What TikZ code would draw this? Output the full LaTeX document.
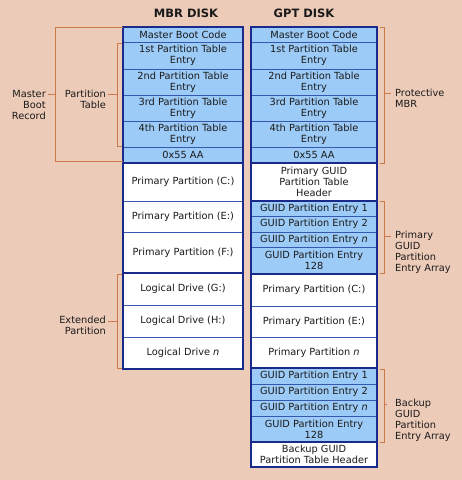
\documentclass[tikz,border=0pt]{standalone}
\usepackage{fontspec}
\setmainfont{DejaVu Sans}
\definecolor{bg}{HTML}{EDCBB9}
\definecolor{cellblue}{HTML}{9DCBF7}
\definecolor{sep}{HTML}{3558B0}
\definecolor{navy}{HTML}{1A2A8A}
\definecolor{brk}{HTML}{C9794A}
\definecolor{txt}{HTML}{1A1A1A}
\newcommand\cellbox[7]{\node[#6, minimum width={(#4-#2)*1pt}, minimum height={(#5-#3)*1pt}, anchor=north west] (#1) at (#2,#3) {#7};}
\tikzset{
  basecell/.style={draw=sep, line width=0.9pt, inner sep=0pt, outer sep=0pt, align=center, text=txt, font=\fontsize{9.8}{11}\selectfont},
  bcell/.style={basecell, fill=cellblue},
  wcell/.style={basecell, fill=white},
  grp/.style={draw=navy, line width=1.6pt},
  col/.style={draw=navy, line width=1.1pt},
  brkline/.style={draw=brk, line width=0.8pt},
  lbl/.style={inner sep=0pt, text=txt, font=\fontsize{9.8}{11}\selectfont},
  ttl/.style={inner sep=0pt, text=txt, font=\fontsize{11.5}{13}\selectfont\bfseries}
}
\begin{document}
\begin{tikzpicture}[x=1pt,y=-1pt]
\fill[bg] (0,0) rectangle (462,480);
\useasboundingbox (0,0) rectangle (462,480);
% titles
\node[ttl] (tmbr) at (186,13) {MBR DISK};
\node[ttl] (tgpt) at (304,13) {GPT DISK};
% MBR column
\cellbox{m1}{123}{27}{243}{42}{bcell}{Master Boot Code}
\cellbox{m2}{123}{42}{243}{69}{bcell}{1st Partition Table\\Entry}
\cellbox{m3}{123}{69}{243}{95}{bcell}{2nd Partition Table\\Entry}
\cellbox{m4}{123}{95}{243}{121}{bcell}{3rd Partition Table\\Entry}
\cellbox{m5}{123}{121}{243}{147}{bcell}{4th Partition Table\\Entry}
\cellbox{m6}{123}{147}{243}{163}{bcell}{0x55 AA}
\cellbox{m7}{123}{163}{243}{201}{wcell}{Primary Partition (C:)}
\cellbox{m8}{123}{201}{243}{232}{wcell}{Primary Partition (E:)}
\cellbox{m9}{123}{232}{243}{273}{wcell}{Primary Partition (F:)}
\cellbox{m10}{123}{273}{243}{305}{wcell}{Logical Drive (G:)}
\cellbox{m11}{123}{305}{243}{337}{wcell}{Logical Drive (H:)}
\cellbox{m12}{123}{337}{243}{369}{wcell}{Logical Drive \textit{n}}
\draw[col] (m1.north west) rectangle (m12.south east);
\draw[grp] (m1.north west) rectangle (m6.south east);
\draw[grp] (m10.north west) rectangle (m12.south east);
% GPT column
\cellbox{g1}{251}{27}{377}{42}{bcell}{Master Boot Code}
\cellbox{g2}{251}{42}{377}{69}{bcell}{1st Partition Table\\Entry}
\cellbox{g3}{251}{69}{377}{95}{bcell}{2nd Partition Table\\Entry}
\cellbox{g4}{251}{95}{377}{121}{bcell}{3rd Partition Table\\Entry}
\cellbox{g5}{251}{121}{377}{147}{bcell}{4th Partition Table\\Entry}
\cellbox{g6}{251}{147}{377}{163}{bcell}{0x55 AA}
\cellbox{g7}{251}{163}{377}{201}{wcell}{Primary GUID\\Partition Table\\Header}
\cellbox{g8}{251}{201}{377}{216}{bcell}{GUID Partition Entry 1}
\cellbox{g9}{251}{216}{377}{232}{bcell}{GUID Partition Entry 2}
\cellbox{g10}{251}{232}{377}{247}{bcell}{GUID Partition Entry \textit{n}}
\cellbox{g11}{251}{247}{377}{274}{bcell}{GUID Partition Entry\\128}
\cellbox{g12}{251}{274}{377}{306}{wcell}{Primary Partition (C:)}
\cellbox{g13}{251}{306}{377}{337}{wcell}{Primary Partition (E:)}
\cellbox{g14}{251}{337}{377}{368}{wcell}{Primary Partition \textit{n}}
\cellbox{g15}{251}{368}{377}{384}{bcell}{GUID Partition Entry 1}
\cellbox{g16}{251}{384}{377}{400}{bcell}{GUID Partition Entry 2}
\cellbox{g17}{251}{400}{377}{416}{bcell}{GUID Partition Entry \textit{n}}
\cellbox{g18}{251}{416}{377}{442}{bcell}{GUID Partition Entry\\128}
\cellbox{g19}{251}{442}{377}{467}{wcell}{Backup GUID\\Partition Table Header}
\draw[col] (g1.north west) rectangle (g19.south east);
\draw[grp] (g1.north west) rectangle (g6.south east);
\draw[col] (g8.north west) rectangle (g11.south east);
\draw[col] (g15.north west) rectangle (g18.south east);
% labels
\node[lbl, anchor=east, align=right] (lmbr) at (46,105) {Master\\Boot\\Record};
\node[lbl, anchor=east, align=right] (lpt) at (106,99.5) {Partition\\Table};
\node[lbl, anchor=east, align=right] (lext) at (106,325.5) {Extended\\Partition};
\node[lbl, anchor=west, align=left] (lprot) at (395,98.5) {Protective\\MBR};
\node[lbl, anchor=west, align=left] (lpgea) at (395,252) {Primary\\GUID\\Partition\\Entry Array};
\node[lbl, anchor=west, align=left] (lbgea) at (395,420.5) {Backup\\GUID\\Partition\\Entry Array};
% brackets
\draw[brkline] (m1.north west) -- (55,27) -- (55,161) -- (123,161);
\draw[brkline] (48,94) -- (55,94);
\draw[brkline] (122,43) -- (117,43) -- (117,146) -- (122,146);
\draw[brkline] (108,94) -- (117,94);
\draw[brkline] (122,274) -- (117,274) -- (117,368) -- (122,368);
\draw[brkline] (108,321) -- (117,321);
\draw[brkline] (380,27) -- (384,27) -- (384,163) -- (380,163);
\draw[brkline] (384,93) -- (391,93);
\draw[brkline] (380,201) -- (384,201) -- (384,273) -- (380,273);
\draw[brkline] (384,236) -- (391,236);
\draw[brkline] (380,369) -- (384,369) -- (384,442) -- (380,442);
\draw[brkline] (384,404) -- (387,404);
\end{tikzpicture}
\end{document}
